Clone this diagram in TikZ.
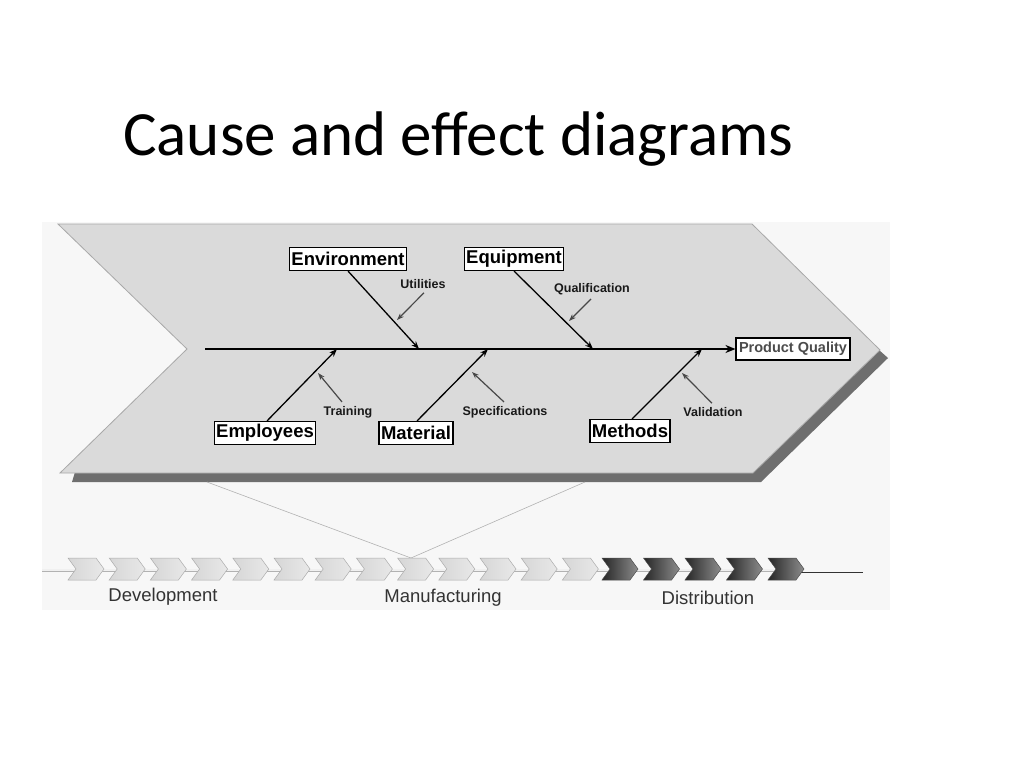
\documentclass[tikz,border=0pt]{standalone}
\usepackage{fontspec}
\setmainfont{Liberation Sans}
\newfontfamily\titlefont{Carlito}
\usetikzlibrary{arrows.meta}
\definecolor{chevfill}{HTML}{DADADA}
\definecolor{chevedge}{HTML}{A8A8A8}
\definecolor{shadowc}{HTML}{6E6E6E}
\definecolor{photobg}{HTML}{F7F7F7}
\definecolor{subc}{HTML}{484848}
\tikzset{
  causebox/.style={draw=black, line width=1.1pt, fill=white, font=\bfseries\fontsize{18.5}{20}\selectfont, inner xsep=2pt, inner ysep=0pt, minimum height=23pt},
  bone/.style={line width=1.3pt, -{Stealth[length=8pt,width=6pt]}},
  subarrow/.style={draw=subc, line width=1.2pt, -{Stealth[length=7pt,width=5pt]}},
  sublabel/.style={font=\bfseries\fontsize{12.5}{14}\selectfont, text=black!90, inner sep=1pt},
  phase/.style={font=\fontsize{18.5}{20}\selectfont, text=black!80},
  lightchev/.style={left color=gray!32, right color=gray!18, draw=gray!65, line width=0.5pt},
  darkchev/.style={left color=black!85, right color=black!45, draw=black!70, line width=0.5pt},
}
\begin{document}
\begin{tikzpicture}[x=1pt,y=-1pt]
\useasboundingbox (0,0) rectangle (1024,768);
% title
\node[anchor=base west, inner sep=0pt, font=\titlefont\fontsize{63}{66}\selectfont] (title) at (123,155) {Cause and effect diagrams};
% photo background
\fill[photobg] (42,222) rectangle (890,610);
% big chevron with shadow
\fill[shadowc] (879,350) -- (888,358) -- (761,482) -- (72,482) -- (75,472) -- (753,472) -- cycle;
\filldraw[fill=chevfill, draw=chevedge, line width=0.8pt] (58,224) -- (752,224) -- (880,350) -- (753,473) -- (60,473) -- (187,349) -- cycle;
% effect
\node[draw=black, line width=1.1pt, fill=white, text=black!70, font=\bfseries\fontsize{14.5}{16}\selectfont, inner xsep=3pt, minimum height=22pt] (pq) at (793,349) {Product Quality};
\coordinate (spineL) at (205,349);
\draw[line width=2.2pt, -{Stealth[length=10pt,width=8pt]}] (spineL) -- (pq.west);
% causes
\node[causebox] (env) at (348,259) {Environment};
\node[causebox] (equ) at (514,259) {Equipment};
\node[causebox] (emp) at (265,433) {Employees};
\node[causebox] (mat) at (416,433) {Material};
\node[causebox] (met) at (630,431) {Methods};
\coordinate (s1) at (419,349);
\coordinate (s2) at (593,349);
\coordinate (s3) at (337,349);
\coordinate (s4) at (488,349);
\coordinate (s5) at (702,349);
\draw[bone] (env.south) -- (s1);
\draw[bone] (equ.south) -- (s2);
\draw[bone] ([xshift=2pt]emp.north) -- (s3);
\draw[bone] ([xshift=1pt]mat.north) -- (s4);
\draw[bone] ([xshift=2pt]met.north) -- (s5);
% sub causes
\node[sublabel] (uti) at (423,284) {Utilities};
\node[sublabel] (qua) at (592,289) {Qualification};
\node[sublabel] (tra) at (348,412) {Training};
\node[sublabel] (spe) at (505,412) {Specifications};
\node[sublabel] (val) at (713,412) {Validation};
\coordinate (b1) at (397,320);
\coordinate (b2) at (569,321);
\coordinate (b3) at (318,373);
\coordinate (b4) at (472,372);
\coordinate (b5) at (682,373);
\draw[subarrow] ([xshift=1pt,yshift=-3pt]uti.south) -- (b1);
\draw[subarrow] ([xshift=-1pt,yshift=-3pt]qua.south) -- (b2);
\draw[subarrow] ([xshift=-6pt,yshift=3pt]tra.north) -- (b3);
\draw[subarrow] ([xshift=-1pt,yshift=3pt]spe.north) -- (b4);
\draw[subarrow] ([xshift=-1pt,yshift=3pt]val.north) -- (b5);
% process row
\coordinate (focus) at (411,558);
\coordinate (cl) at (207,482);
\coordinate (cr) at (585,482);
\draw[gray!60, line width=0.6pt] (cl) -- (focus) -- (cr);
\draw[draw=gray!60, double=gray!12, double distance=1.6pt, line width=0.7pt] (42,570) -- (800,570);
\draw[black!80, line width=1pt] (800,572) -- (863,572);
\foreach \i in {0,...,12} {
  \pgfmathsetmacro\xx{68+41.2*\i}
  \path[lightchev] (\xx,558) -- ++(28,0) -- ++(8,11) -- ++(-8,11) -- ++(-28,0) -- ++(8,-11) -- cycle;
}
\foreach \i in {0,...,4} {
  \pgfmathsetmacro\xx{602+41.5*\i}
  \path[darkchev] (\xx,558) -- ++(28,0) -- ++(8,11) -- ++(-8,11) -- ++(-28,0) -- ++(8,-11) -- cycle;
}
\node[phase] (dev) at (163,597) {Development};
\node[phase] (man) at (443,598) {Manufacturing};
\node[phase] (dis) at (708,598) {Distribution};
\end{tikzpicture}
\end{document}
